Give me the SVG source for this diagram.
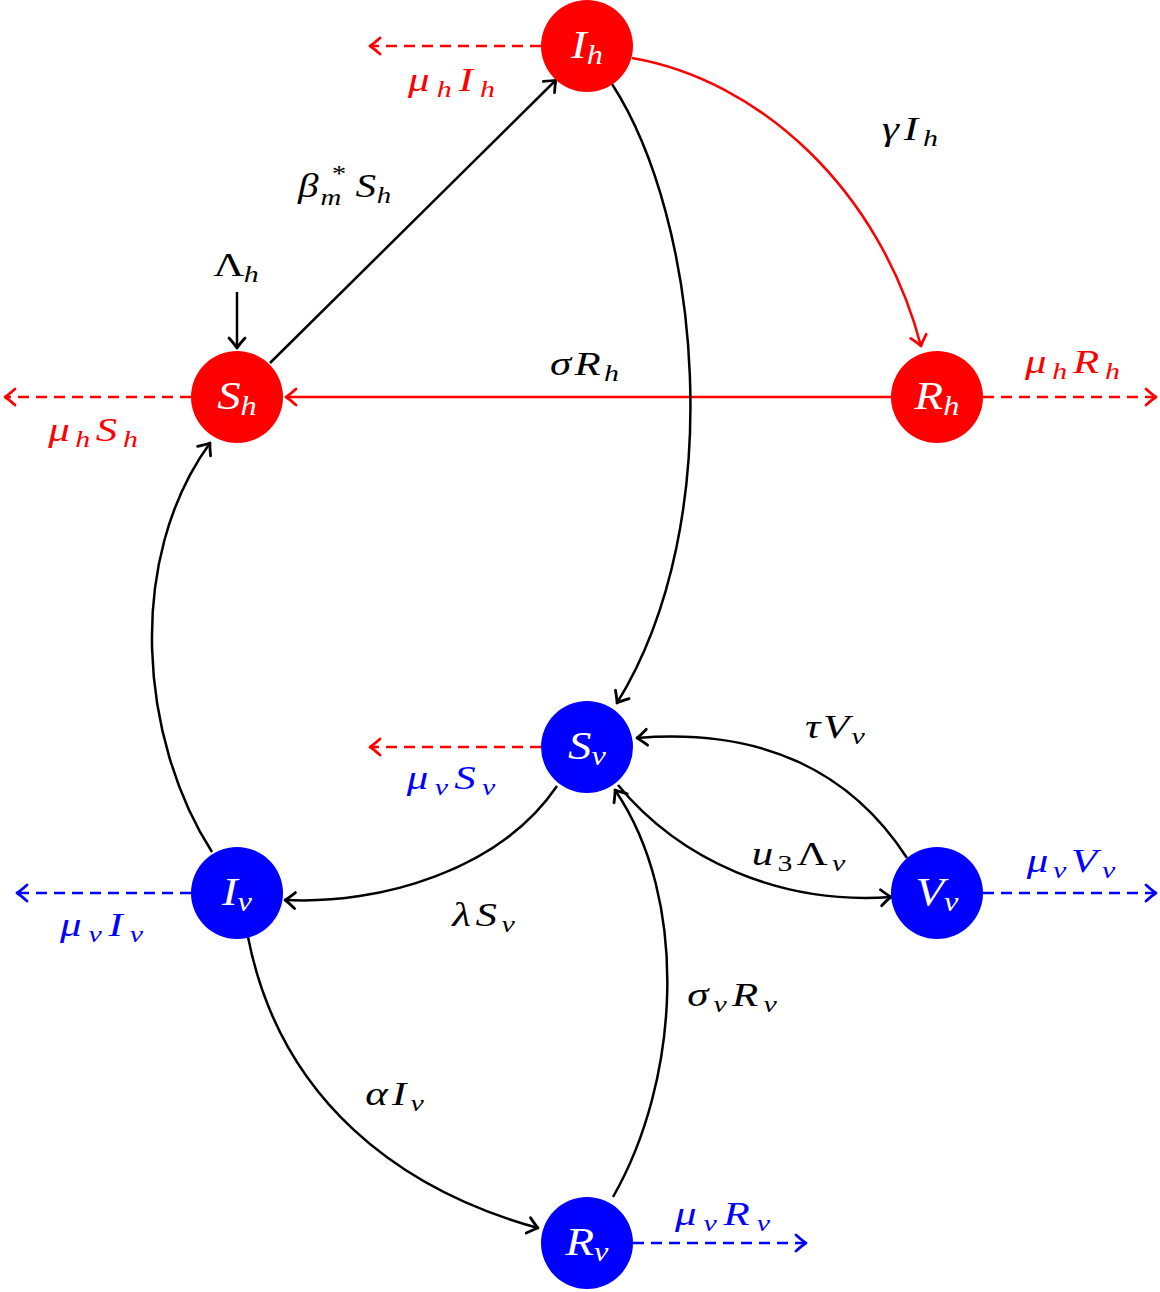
<svg xmlns="http://www.w3.org/2000/svg" width="1160" height="1292" viewBox="0 0 1160 1292">
<style>
.lbl{font-family:"Liberation Serif","Times New Roman",serif;font-style:italic;font-size:33px;text-anchor:middle}
.nlbl{font-family:"Liberation Serif","Times New Roman",serif;font-style:italic;font-size:39px;text-anchor:middle;fill:#fff}
.k{fill:#000}.r{fill:#f00}.b{fill:#00f}
.e{fill:none;stroke-width:2.5}
.ek{stroke:#000}.er{stroke:#f00}.eb{stroke:#00f}
.d{stroke-dasharray:11 7}
</style>
<defs>
<marker id="ak" markerUnits="userSpaceOnUse" markerWidth="24" markerHeight="24" viewBox="-12 -12 24 24" refX="0" refY="0" orient="auto">
<path d="M-10,-8 Q-3,-1.8 0,0 Q-3,1.8 -10,8" fill="none" stroke="#000" stroke-width="2.8" stroke-linecap="round" stroke-linejoin="round"/>
</marker>
<marker id="ar" markerUnits="userSpaceOnUse" markerWidth="24" markerHeight="24" viewBox="-12 -12 24 24" refX="0" refY="0" orient="auto">
<path d="M-10,-8 Q-3,-1.8 0,0 Q-3,1.8 -10,8" fill="none" stroke="#f00" stroke-width="2.8" stroke-linecap="round" stroke-linejoin="round"/>
</marker>
<marker id="ab" markerUnits="userSpaceOnUse" markerWidth="24" markerHeight="24" viewBox="-12 -12 24 24" refX="0" refY="0" orient="auto">
<path d="M-10,-8 Q-3,-1.8 0,0 Q-3,1.8 -10,8" fill="none" stroke="#00f" stroke-width="2.8" stroke-linecap="round" stroke-linejoin="round"/>
</marker>
</defs>
<rect width="1160" height="1292" fill="#fff"/>
<g id="connectors">
<path class="e er d" d="M541,46 H370" marker-end="url(#ar)"/>
<path class="e er" d="M632,58 C760,80 880,190 921,346" marker-end="url(#ar)"/>
<path class="e ek" d="M270,363 L556,80" marker-end="url(#ak)"/>
<path class="e ek" d="M237,292 V348" marker-end="url(#ak)"/>
<path class="e er d" d="M191,397 H5" marker-end="url(#ar)"/>
<path class="e er" d="M891,397 H286" marker-end="url(#ar)"/>
<path class="e er d" d="M983,397 H1156" marker-end="url(#ar)"/>
<path class="e ek" d="M612,84 C700,220 730,520 617,703" marker-end="url(#ak)"/>
<path class="e ek" d="M212,852 C140,740 125,560 210,443" marker-end="url(#ak)"/>
<path class="e er d" d="M541,747 H370" marker-end="url(#ar)"/>
<path class="e ek" d="M907,858 C850,770 760,728 637,738" marker-end="url(#ak)"/>
<path class="e ek" d="M618,785 C680,860 780,905 891,897" marker-end="url(#ak)"/>
<path class="e ek" d="M557,786 C500,870 380,905 285,900" marker-end="url(#ak)"/>
<path class="e eb d" d="M191,893 H17" marker-end="url(#ab)"/>
<path class="e eb d" d="M983,893 H1156" marker-end="url(#ab)"/>
<path class="e ek" d="M248,937 C280,1100 400,1190 538,1228" marker-end="url(#ak)"/>
<path class="e ek" d="M613,1197 C680,1080 690,900 615,790" marker-end="url(#ak)"/>
<path class="e eb d" d="M633,1243 H806" marker-end="url(#ab)"/>
</g>
<g id="edge-labels">
<text class="lbl r" transform="translate(451.5,91) scale(1.3,1)" textLength="67" lengthAdjust="spacing">μ<tspan font-size="23" dy="6">h</tspan><tspan dy="-6">I</tspan><tspan font-size="23" dy="6">h</tspan></text>
<text class="lbl k" transform="translate(910,140) scale(1.3,1)" textLength="43" lengthAdjust="spacing">γI<tspan font-size="23" dy="6">h</tspan></text>
<text class="lbl k" style="text-anchor:start" transform="translate(298,197) scale(1.25,1)"><tspan x="0" y="0">β</tspan><tspan x="26" y="-16" font-size="23">*</tspan><tspan x="18" y="8" font-size="23">m</tspan><tspan x="46" y="0">S</tspan><tspan x="63" y="6" font-size="23">h</tspan></text>
<text class="lbl k" transform="translate(236,276) scale(1.3,1)" textLength="35" lengthAdjust="spacing"><tspan font-style="normal">Λ</tspan><tspan font-size="23" dy="6">h</tspan></text>
<text class="lbl r" transform="translate(93,441) scale(1.3,1)" textLength="69" lengthAdjust="spacing">μ<tspan font-size="23" dy="6">h</tspan><tspan dy="-6">S</tspan><tspan font-size="23" dy="6">h</tspan></text>
<text class="lbl k" transform="translate(584.5,375) scale(1.3,1)" textLength="53" lengthAdjust="spacing">σR<tspan font-size="23" dy="6">h</tspan></text>
<text class="lbl r" transform="translate(1072.5,373) scale(1.3,1)" textLength="73" lengthAdjust="spacing">μ<tspan font-size="23" dy="6">h</tspan><tspan dy="-6">R</tspan><tspan font-size="23" dy="6">h</tspan></text>
<text class="lbl b" transform="translate(451,789) scale(1.3,1)" textLength="68" lengthAdjust="spacing">μ<tspan font-size="23" dy="6">v</tspan><tspan dy="-6">S</tspan><tspan font-size="23" dy="6">v</tspan></text>
<text class="lbl k" transform="translate(835,738) scale(1.3,1)" textLength="46" lengthAdjust="spacing">τV<tspan font-size="23" dy="6">v</tspan></text>
<text class="lbl k" transform="translate(798.5,865) scale(1.3,1)" textLength="72" lengthAdjust="spacing">u<tspan font-size="23" font-style="normal" dy="6">3</tspan><tspan dy="-6" font-style="normal">Λ</tspan><tspan font-size="23" dy="6">v</tspan></text>
<text class="lbl k" transform="translate(483.5,926) scale(1.3,1)" textLength="48" lengthAdjust="spacing">λS<tspan font-size="23" dy="6">v</tspan></text>
<text class="lbl b" transform="translate(101.5,936) scale(1.3,1)" textLength="64" lengthAdjust="spacing">μ<tspan font-size="23" dy="6">v</tspan><tspan dy="-6">I</tspan><tspan font-size="23" dy="6">v</tspan></text>
<text class="lbl b" transform="translate(1071,872) scale(1.3,1)" textLength="68" lengthAdjust="spacing">μ<tspan font-size="23" dy="6">v</tspan><tspan dy="-6">V</tspan><tspan font-size="23" dy="6">v</tspan></text>
<text class="lbl k" transform="translate(394.5,1105) scale(1.3,1)" textLength="45" lengthAdjust="spacing">αI<tspan font-size="23" dy="6">v</tspan></text>
<text class="lbl k" transform="translate(732,1006) scale(1.3,1)" textLength="69" lengthAdjust="spacing">σ<tspan font-size="23" dy="6">v</tspan><tspan dy="-6">R</tspan><tspan font-size="23" dy="6">v</tspan></text>
<text class="lbl b" transform="translate(722.5,1225) scale(1.3,1)" textLength="73" lengthAdjust="spacing">μ<tspan font-size="23" dy="6">v</tspan><tspan dy="-6">R</tspan><tspan font-size="23" dy="6">v</tspan></text>
</g>
<g id="node-Ih"><circle cx="587" cy="46" r="46" fill="#f00"/><text class="nlbl" transform="translate(587,58) scale(1.2,1)">I<tspan font-size="27" dy="6">h</tspan></text></g>
<g id="node-Sh"><circle cx="237" cy="397" r="46" fill="#f00"/><text class="nlbl" transform="translate(237,409) scale(1.2,1)">S<tspan font-size="27" dy="6">h</tspan></text></g>
<g id="node-Rh"><circle cx="937" cy="397" r="46" fill="#f00"/><text class="nlbl" transform="translate(937,409) scale(1.2,1)">R<tspan font-size="27" dy="6">h</tspan></text></g>
<g id="node-Sv"><circle cx="587" cy="747" r="46" fill="#00f"/><text class="nlbl" transform="translate(587,759) scale(1.2,1)">S<tspan font-size="27" dy="6">v</tspan></text></g>
<g id="node-Iv"><circle cx="237" cy="893" r="46" fill="#00f"/><text class="nlbl" transform="translate(237,905) scale(1.2,1)">I<tspan font-size="27" dy="6">v</tspan></text></g>
<g id="node-Vv"><circle cx="937" cy="893" r="46" fill="#00f"/><text class="nlbl" transform="translate(937,905) scale(1.2,1)">V<tspan font-size="27" dy="6">v</tspan></text></g>
<g id="node-Rv"><circle cx="587" cy="1243" r="46" fill="#00f"/><text class="nlbl" transform="translate(587,1255) scale(1.2,1)">R<tspan font-size="27" dy="6">v</tspan></text></g>
</svg>
